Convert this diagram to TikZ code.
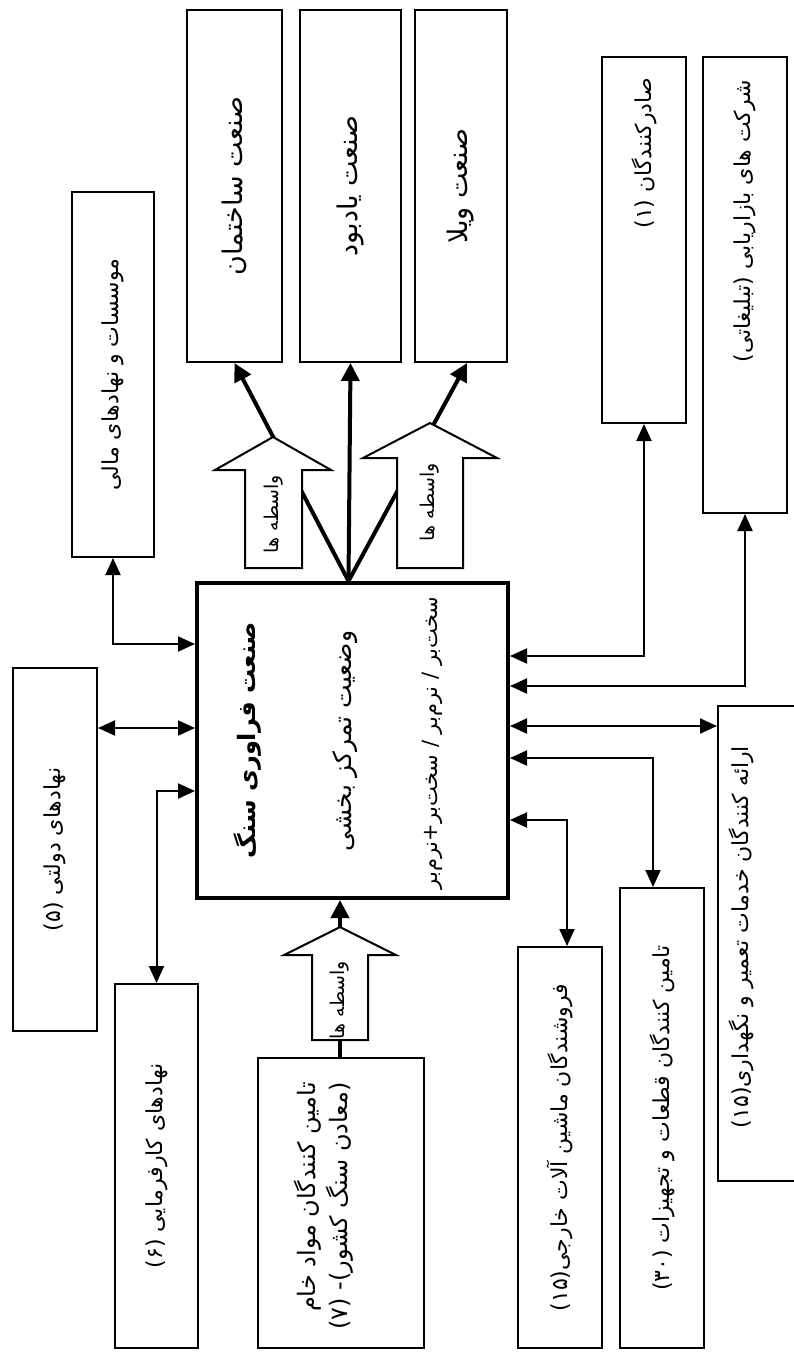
\documentclass[tikz,border=0pt]{standalone}
\usepackage{graphicx}
\usepackage{fontspec}
\usepackage{tikz}
\usetikzlibrary{arrows.meta,calc}
\newfontfamily\fafont[Script=Arabic]{DejaVu Sans}
\TeXXeTstate=1
% rotated persian text, read from top to bottom
\newcommand{\vtext}[1]{\rotatebox{90}{\beginR #1\endR}}
\newcommand{\vtexttop}[2]{\rotatebox{90}{\makebox[#1][r]{#2}}}

\tikzset{
  box/.style={draw, line width=2pt, inner sep=0pt, font=\fafont\fontsize{22}{26}\selectfont},
  bigtext/.style={font=\fafont\fontsize{27}{31}\selectfont},
  corebox/.style={draw, line width=4pt, inner sep=0pt},
  link/.style={line width=2pt, {Triangle[length=17pt,width=15pt]}-{Triangle[length=17pt,width=15pt]}},
  feed/.style={line width=4pt, -{Triangle[length=18pt,width=18pt]}},
  hollow/.style={draw, line width=2pt, fill=white},
  midtext/.style={inner sep=0pt, font=\fafont\fontsize{19}{23}\selectfont}
}

\begin{document}
\begin{tikzpicture}[x=1pt,y=-1pt]
  \fill[white] (0,0) rectangle (793,1360);
  \useasboundingbox (0,0) rectangle (793,1360);

  % upper row
  \node[box, bigtext, minimum width=95pt, minimum height=352pt] (sakhteman) at (234.5,186) {\vtext{صنعت ساختمان}};
  \node[box, bigtext, minimum width=101pt, minimum height=352pt] (yadbood) at (350.5,186) {\vtext{صنعت یادبود}};
  \node[box, bigtext, minimum width=92pt, minimum height=352pt] (villa) at (461,186) {\vtext{صنعت ویلا}};
  \node[box, minimum width=82pt, minimum height=365pt] (mali) at (113,374.5) {\vtext{موسسات و نهادهای مالی}};
  \node[box, minimum width=84pt, minimum height=366pt] (saderkon) at (644,240) {\vtexttop{324pt}{\beginR صادرکنندگان (۱)\endR}};
  \node[box, minimum width=84pt, minimum height=456pt] (sherkat) at (745,285) {\vtexttop{410pt}{\beginR شرکت های بازاریابی (تبلیغاتی)\endR}};

  % central box
  \node[corebox, minimum width=311pt, minimum height=315pt] (core) at (352.5,740.5) {};
  \node[inner sep=0pt, font=\fafont\bfseries\fontsize{24}{28}\selectfont] (coretitle) at (248,740) {\vtext{صنعت فراوری سنگ}};
  \node[inner sep=0pt, font=\fafont\fontsize{25}{29}\selectfont] (coresub) at (345,741) {\vtext{وضعیت تمرکز بخشی}};
  \node[inner sep=0pt, font=\fafont\fontsize{21}{25}\selectfont] (coretype) at (432,743) {\vtext{سخت‌بر / نرم‌بر / سخت‌بر+نرم‌بر}};

  % side and lower boxes
  \node[box, minimum width=84pt, minimum height=363pt] (dolati) at (55,849.5) {\vtext{نهادهای دولتی (۵)}};
  \node[box, minimum width=83pt, minimum height=364pt] (karfarma) at (156.5,1166) {\vtext{نهادهای کارفرمایی (۶)}};
  \node[box, minimum width=166pt, minimum height=290pt] (raw) at (341,1203) {};
  \node[inner sep=0pt, font=\fafont\fontsize{24}{32}\selectfont] (rawtext) at (325,1206)
    {\rotatebox{90}{\begin{tabular}{@{}r@{}}\beginR تامین کنندگان مواد خام\endR\\ \beginR (معادن سنگ کشور)- (۷)\endR\end{tabular}}};
  \node[box, minimum width=84pt, minimum height=401pt] (forooshande) at (560,1147.5) {\vtext{فروشندگان ماشین آلات خارجی(۱۵)}};
  \node[box, minimum width=84pt, minimum height=460pt] (ghataat) at (662,1118) {\vtext{تامین کنندگان قطعات و تجهیزات (۳۰)}};
  \node[box, minimum width=84pt, minimum height=475pt] (erae) at (760,943.5) {};
  \node[inner sep=0pt, font=\fafont\fontsize{22}{26}\selectfont] (eraetext) at (741,937) {\vtext{ارائه کنندگان خدمات تعمیر و نگهداری(۱۵)}};

  % two way links
  \draw[link] (mali.south) |- (core.west |- 0,644);
  \draw[link] (dolati.east |- 0,728) -- (core.west |- 0,728);
  \draw[link] (core.west |- 0,791) -| (karfarma.north);
  \draw[link] (core.east |- 0,656) -| (saderkon.south);
  \draw[link] (core.east |- 0,686) -| (sherkat.south);
  \draw[link] (core.east |- 0,726) -- (erae.west |- 0,726);
  \draw[link] (core.east |- 0,758) -| ($(ghataat.north)+(-9,0)$);
  \draw[link] (core.east |- 0,820) -| ($(forooshande.north)+(7,0)$);

  % thick outputs and input
  \draw[feed] ($(core.north)+(-4,0)$) -- (sakhteman.south);
  \draw[feed] ($(core.north)+(-4,0)$) -- (yadbood.south);
  \draw[feed] ($(core.north)+(-4,0)$) -- ($(villa.south)+(6,0)$);
  \draw[feed] ($(raw.north)+(-1,0)$) -- ($(raw.north |- core.south)+(-1,0)$);

  % hollow block arrows
  \draw[hollow] (245,568) -- (245,470) -- (215,470) -- (273,437) -- (331,470) -- (302,470) -- (302,568) -- cycle;
  \draw[hollow] (397,568) -- (397,458) -- (363,458) -- (430,423) -- (497,458) -- (463,458) -- (463,568) -- cycle;
  \draw[hollow] (312,1040) -- (312,955) -- (284,955) -- (340,927) -- (396,955) -- (368,955) -- (368,1040) -- cycle;
  \node[midtext] (vaset1) at (273.5,514) {\vtext{واسطه ها}};
  \node[midtext] (vaset2) at (430,502) {\vtext{واسطه ها}};
  \node[midtext] (vaset3) at (340,1000) {\vtext{واسطه ها}};
\end{tikzpicture}
\end{document}
